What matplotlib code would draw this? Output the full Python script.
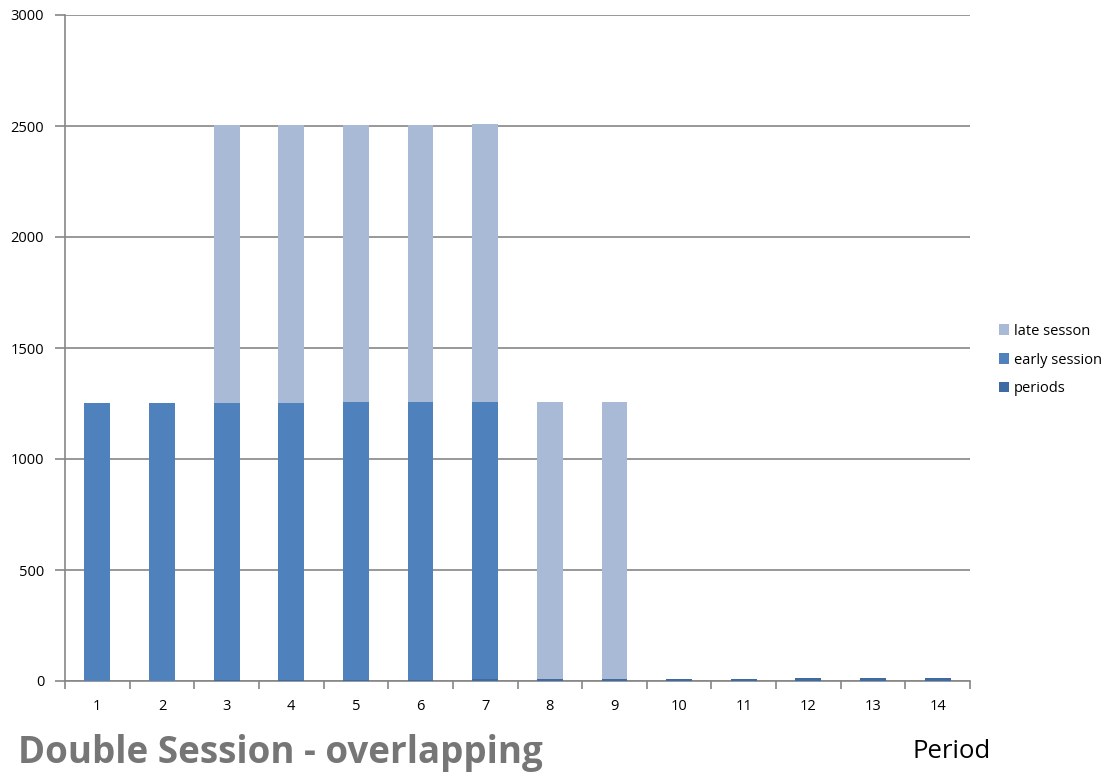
import numpy as np
import matplotlib.pyplot as plt

# Werte
perioden = [1, 2, 3, 4, 5, 6, 7, 8, 9, 10, 11, 12, 13, 14]
periods = [1, 2, 3, 4, 5, 6, 7, 8, 9, 10, 11, 12, 13, 14]
early_session = [1250, 1250, 1250, 1250, 1250, 1250, 1250, 0, 0, 0, 0, 0, 0, 0]
late_session = [0, 0, 1250, 1250, 1250, 1250, 1250, 1250, 1250, 0, 0, 0, 0, 0]

farbe_periods = '#3E6BA3'
farbe_early = '#4F81BD'
farbe_late = '#A9BAD7'
grau = '#868686'

plt.rcParams['font.family'] = ['Open Sans', 'DejaVu Sans']

fig = plt.figure(figsize=(11.1, 7.76), dpi=100)
ax = fig.add_axes([65 / 1110, 95 / 776, 905 / 1110, 666 / 776])

x = np.arange(len(perioden))
breite = 0.4
p = np.array(periods)
e = np.array(early_session)
l = np.array(late_session)

ax.bar(x, p, breite, color=farbe_periods, label='periods', zorder=3)
ax.bar(x, e, breite, bottom=p, color=farbe_early, label='early session', zorder=3)
ax.bar(x, l, breite, bottom=p + e, color=farbe_late, label='late sesson', zorder=3)

ax.set_xlim(-0.5, len(perioden) - 0.5)
ax.set_ylim(0, 3000)
ax.set_yticks(range(0, 3001, 500))
ax.set_xticks(x)
ax.set_xticklabels([str(v) for v in perioden])
ax.set_xticks(np.arange(-0.5, len(perioden), 1), minor=True)
ax.tick_params(axis='x', which='major', length=0, pad=13, labelsize=10.5)
ax.tick_params(axis='x', which='minor', length=6, color=grau, width=1.2)
ax.tick_params(axis='y', length=7, color=grau, width=1.2, labelsize=10.5, pad=8)

ax.grid(axis='y', color=grau, linewidth=1.2, zorder=0)
for s in ['top', 'right']:
    ax.spines[s].set_visible(False)
for s in ['left', 'bottom']:
    ax.spines[s].set_color(grau)
    ax.spines[s].set_linewidth(1.2)

# Legende rechts, umgekehrte Reihenfolge
handles, labels = ax.get_legend_handles_labels()
fig.legend(handles[::-1], labels[::-1], loc='center left',
           bbox_to_anchor=(986 / 1110, 1 - 360 / 776), frameon=False,
           fontsize=10.5, handlelength=0.7, handleheight=0.7,
           handletextpad=0.3, labelspacing=0.95)

fig.text(18 / 1110, 1 - 753 / 776, 'Double Session - overlapping', fontsize=26.5,
         fontweight='bold', color='#767676', va='center', ha='left')
fig.text(952 / 1110, 1 - 751 / 776, 'Period', fontsize=18.5, color='black',
         va='center', ha='center')

plt.savefig('out.png', dpi=100)
